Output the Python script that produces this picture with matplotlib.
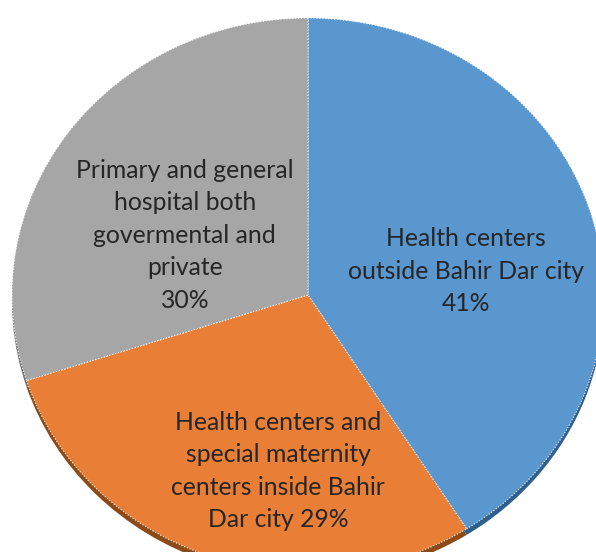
import matplotlib
matplotlib.use("Agg")
import matplotlib.pyplot as plt

# slice data, clockwise from 12 o'clock
labels = ["Health centers\noutside Bahir Dar city\n41%",
          "Health centers and\nspecial maternity\ncenters inside Bahir\nDar city 29%",
          "Primary and general\nhospital both\ngovermental and\nprivate\n30%"]
shares = [41, 29, 30]
colors = ["#5b97cf", "#e97f36", "#a6a6a6"]
shadow_colors = ["#2f5f8f", "#8c4a18", "#6f6f6f"]

# label centres (data units, pie radius = 1)
label_x = [0.534, -0.10, -0.416]
label_y = [0.085, -0.635, 0.215]

fig = plt.figure(figsize=(5.96, 5.52), dpi=100)
ax = fig.add_axes([0, 0, 1, 1])

# dark rim underneath to mimic the 3d look
ax.pie(shares, colors=shadow_colors, startangle=90, counterclock=False,
       radius=1.0, center=(0, -0.022), wedgeprops=dict(linewidth=0))
ax.pie(shares, colors=colors, startangle=90, counterclock=False,
       radius=1.0, center=(0, 0),
       wedgeprops=dict(edgecolor="white", linewidth=0.8, linestyle=":"))

for txt, x, y in zip(labels, label_x, label_y):
    ax.text(x, y, txt, ha="center", va="center", fontsize=17.8,
            family="Lato", color="#262626", linespacing=1.5)

ax.set_aspect("auto")
ax.set_xlim(-1.0405, 0.973)
ax.set_ylim(-0.928, 1.065)
ax.axis("off")

fig.savefig("out.png", dpi=100)
